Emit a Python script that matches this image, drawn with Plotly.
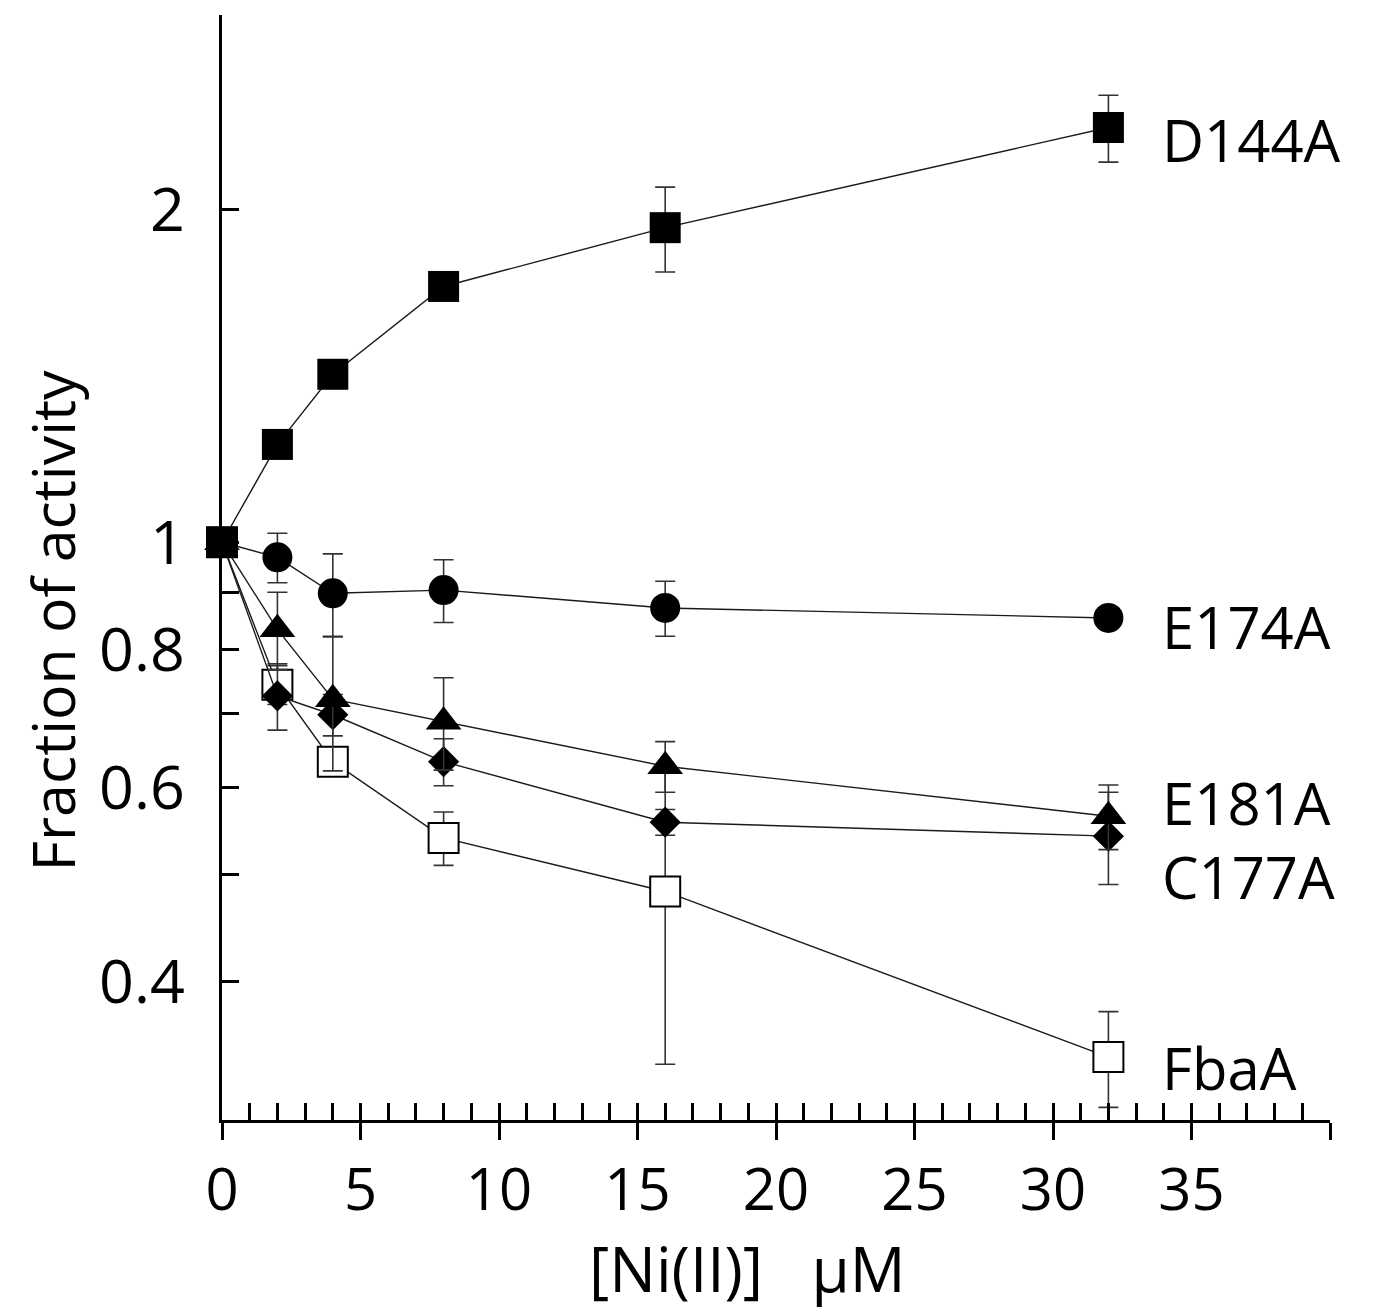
import plotly.graph_objects as go
import math

# ---- data ----
conc = [0, 2, 4, 8, 16, 32]

d144a = [1.0, 1.226, 1.419, 1.704, 1.926, 2.373]
d144a_err = [0.0, 0.03, 0.03, 0.03, 0.17, 0.165]

e174a = [1.0, 0.969, 0.899, 0.905, 0.872, 0.854]
e174a_err = [0.0, 0.05, 0.077, 0.059, 0.05, 0.01]

e181a = [1.0, 0.834, 0.721, 0.688, 0.627, 0.565]
e181a_err = [0.0, 0.067, 0.10, 0.066, 0.033, 0.038]

c177a = [1.0, 0.726, 0.698, 0.633, 0.558, 0.542]
c177a_err = [0.0, 0.05, 0.03, 0.031, 0.015, 0.052]

fbaa = [1.0, 0.743, 0.633, 0.540, 0.483, 0.342]
fbaa_err = [0.0, 0.03, 0.015, 0.03, 0.146, 0.034]

y_tickvals = [0.3, 0.4, 0.5, 0.6, 0.7, 0.8, 0.9, 1, 2, 3]
y_ticktext = ["", "0.4", "", "0.6", "", "0.8", "", "1", "2", ""]
x_tickvals = [0, 5, 10, 15, 20, 25, 30, 35, 40]
x_ticktext = ["0", "5", "10", "15", "20", "25", "30", "35", ""]

FONT = "Open Sans"
FS = 58

series = [
    ("D144A", d144a, d144a_err, dict(symbol="square", size=31, color="black")),
    ("E174A", e174a, e174a_err, dict(symbol="circle", size=30, color="black")),
    ("E181A", e181a, e181a_err, dict(symbol="triangle-up", size=31, color="black")),
    ("C177A", c177a, c177a_err, dict(symbol="diamond", size=24, color="black")),
    ("FbaA", fbaa, fbaa_err, dict(symbol="square", size=30, color="white",
                                 line=dict(color="black", width=2))),
]

fig = go.Figure()
for name, ys, errs, mk in reversed(series):
    fig.add_trace(go.Scatter(
        x=conc, y=ys, name=name, mode="lines+markers",
        line=dict(color="#1a1a1a", width=1.4),
        marker=mk,
        error_y=dict(type="data", array=errs, visible=True,
                     color="#333333", thickness=1.6, width=10),
        cliponaxis=False, showlegend=False,
    ))

label_shift = {"D144A": -12, "E174A": -9, "E181A": 14, "C177A": -40, "FbaA": -10}
for name, ys, errs, mk in series:
    fig.add_annotation(x=conc[-1], y=math.log10(ys[-1]), xref="x", yref="y",
                       text=name, showarrow=False, xanchor="left",
                       xshift=52, yshift=label_shift[name],
                       font=dict(family=FONT, size=FS, color="black"))

fig.add_annotation(x=0.474, y=-0.134, xref="paper", yref="paper",
                   text="[Ni(II)]&nbsp;&nbsp;&nbsp;μM", showarrow=False,
                   yanchor="middle",
                   font=dict(family=FONT, size=62, color="black"))
fig.add_annotation(x=-0.153, y=0.4525, xref="paper", yref="paper",
                   text="Fraction of activity", showarrow=False, textangle=-90,
                   xanchor="center", yanchor="middle",
                   font=dict(family=FONT, size=59, color="black"))

fig.add_trace(go.Scatter(x=[0, 40], y=[1, 1], xaxis="x2", mode="markers",
                         marker=dict(opacity=0), hoverinfo="skip",
                         showlegend=False))

fig.update_layout(
    width=1365, height=1303,
    margin=dict(l=214, r=43, t=7, b=191, autoexpand=False),
    plot_bgcolor="white", paper_bgcolor="white",
    font=dict(family=FONT, size=FS, color="black"),
    xaxis=dict(range=[0, 40], tickvals=x_tickvals, ticktext=x_ticktext,
               ticks="outside", ticklen=17, tickwidth=3, tickcolor="black",
               showline=True, linewidth=3, linecolor="black", automargin=False,
               showgrid=False, zeroline=False, ticklabelstandoff=0,
               tickfont=dict(family=FONT, size=FS)),
    xaxis2=dict(range=[0, 40], overlaying="x", side="bottom", dtick=1, tick0=0,
                ticks="inside", ticklen=17, tickwidth=3, tickcolor="black",
                showticklabels=False, showline=False, showgrid=False,
                zeroline=False, automargin=False),
    yaxis=dict(type="log", range=[math.log10(0.3), math.log10(3)],
               tickvals=y_tickvals, ticktext=y_ticktext,
               ticks="inside", ticklen=17, tickwidth=3, tickcolor="black",
               showline=True, linewidth=3, linecolor="black", automargin=False,
               showgrid=False, zeroline=False, ticklabelstandoff=22,
               tickfont=dict(family=FONT, size=61)),
)

fig.write_html("out.html")
